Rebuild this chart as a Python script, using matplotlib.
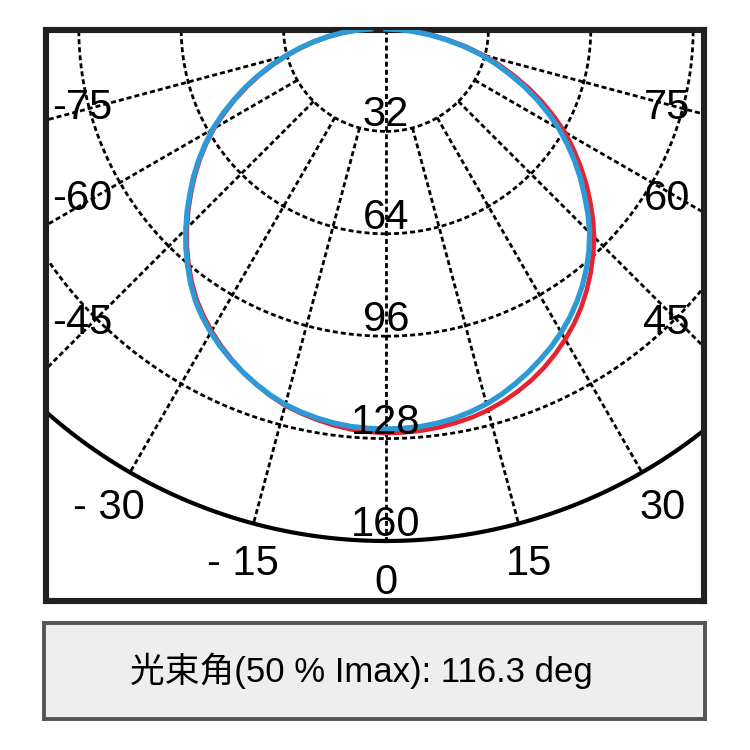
import numpy as np
import matplotlib.pyplot as plt

plt.rcParams['font.family'] = ['Liberation Sans', 'Noto Sans CJK SC', 'DejaVu Sans']

# measured intensity curves, -90 .. 90 deg in 2.5 deg steps
angles = [-90, -87.5, -85, -82.5, -80, -77.5, -75, -72.5, -70, -67.5, -65, -62.5, -60, -57.5,
          -55, -52.5, -50, -47.5, -45, -42.5, -40, -37.5, -35, -32.5, -30, -27.5, -25, -22.5,
          -20, -17.5, -15, -12.5, -10, -7.5, -5, -2.5, 0,
          2.5, 5, 7.5, 10, 12.5, 15, 17.5, 20, 22.5, 25, 27.5, 30, 32.5, 35, 37.5, 40, 42.5,
          45, 47.5, 50, 52.5, 55, 57.5, 60, 62.5, 65, 67.5, 70, 72.5, 75, 77.5, 80, 82.5,
          85, 87.5, 90]
blue_vals = [5, 9.5, 14, 18.5, 23, 27.7, 32.5, 37.5, 42.5, 47.5, 52.5, 57.6, 62.5, 67,
             71.5, 75.8, 80, 84.3, 88.5, 92.6, 96.5, 100.3, 103.8, 106.8, 109.5, 112, 114.2, 116.3,
             118.2, 120, 121.5, 122.6, 123.5, 124.2, 124.7, 124.9, 125,
             124.9, 124.7, 124.2, 123.5, 122.5, 121.3, 119.8, 118, 116.1, 114, 111.9, 109.5, 106.9,
             104, 100.9, 97.5, 93.9, 90, 85.6, 81, 76.6, 72, 67.3, 62.5, 57.3, 52, 46.6, 41, 35.8,
             30.5, 24.8, 19, 13.7, 8.5, 4, 0]
red_vals = [4.5, 9, 13.5, 18, 22.5, 27.3, 32, 37, 42, 47, 52, 57, 62, 66.6,
            71, 75.3, 79.5, 83.8, 88, 92.1, 96, 99.7, 103.2, 106.2, 109, 111.6, 114, 116.3,
            118.3, 120.2, 121.8, 123, 124, 124.9, 125.6, 126, 126.3,
            126.2, 126, 125.6, 125, 124.3, 123.3, 122, 120.5, 118.8, 116.8, 114.5, 112, 109.3,
            106.3, 103, 99.5, 95.8, 92, 87.7, 83.2, 78.7, 74, 69.3, 64.5, 59.2, 53.8, 48.2, 42.5, 37,
            31.5, 25.7, 19.8, 14.4, 9, 4.6, 0.5]

rings = [32, 64, 96, 128]
outer_ring = 160
spokes = [-75, -60, -45, -30, -15, 0, 15, 30, 45, 60, 75]
spoke_labels = ['-75', '-60', '-45', '- 30', '- 15', '0', '15', '30', '45', '60', '75']
info_text = '光束角(50 % Imax): 116.3 deg'

# pixel layout of the figure (750 x 750)
S = 3.2            # px per intensity unit
CX, CY = 386, 29   # polar origin in px
BOX = (46, 30, 704, 601)


def to_xy(theta_deg, r):
    t = np.radians(np.asarray(theta_deg, dtype=float))
    r = np.asarray(r, dtype=float)
    return r * np.sin(t), -r * np.cos(t)


fig = plt.figure(figsize=(7.5, 7.5), dpi=100)
ax = fig.add_axes([BOX[0] / 750, 1 - BOX[3] / 750, (BOX[2] - BOX[0]) / 750, (BOX[3] - BOX[1]) / 750])
ax.set_xlim((BOX[0] - CX) / S, (BOX[2] - CX) / S)
ax.set_ylim(-(BOX[3] - CY) / S, -(BOX[1] - CY) / S)
ax.set_xticks([])
ax.set_yticks([])
for sp in ax.spines.values():
    sp.set_linewidth(4.4)
    sp.set_color('#231f20')

dash = (0, (1.8, 1.1))
full = np.linspace(0, 360, 721)
for r in rings:
    x, y = to_xy(full, np.full_like(full, r))
    ax.plot(x, y, color='black', lw=2.0, linestyle=dash, zorder=1)
x, y = to_xy(full, np.full_like(full, outer_ring))
ax.plot(x, y, color='black', lw=3.0, zorder=1)

for a in spokes:
    r0 = 0 if a == 0 else rings[0]
    x, y = to_xy([a, a], [r0, outer_ring])
    ax.plot(x, y, color='black', lw=2.0, linestyle=dash, zorder=1)

# intensity curves
x, y = to_xy(angles, red_vals)
ax.plot(x, y, color='#e62330', lw=3.3, zorder=3)
x, y = to_xy(angles, blue_vals)
ax.plot(x, y, color='#2b9ad6', lw=3.8, zorder=4)

# ring labels
for r in rings + [outer_ring]:
    ax.text(0, -(r - 5), str(r), ha='center', va='center', fontsize=30, zorder=6)

# angle labels
xl = (BOX[0] + 6 - CX) / S
xr = (BOX[2] - 14 - CX) / S
for a, lab in zip(spokes, spoke_labels):
    if abs(a) <= 30:
        x, y = to_xy(a, 173)
        ax.text(x, y, lab, ha='center', va='center', fontsize=30, zorder=6)
    else:
        y = -92 / np.tan(np.radians(abs(a)))
        if a < 0:
            ax.text(xl, y, lab, ha='left', va='center', fontsize=30, zorder=6)
        else:
            ax.text(xr, y, lab, ha='right', va='center', fontsize=30, zorder=6)

# info box below the chart
bx = fig.add_axes([44 / 750, 1 - 719 / 750, 661 / 750, 96 / 750])
bx.set_facecolor('#eeeeee')
bx.set_xticks([])
bx.set_yticks([])
for sp in bx.spines.values():
    sp.set_linewidth(2.8)
    sp.set_color('#555555')
bx.text(0.48, 0.5, info_text, ha='center', va='center', fontsize=25, transform=bx.transAxes)

fig.savefig('out.png', dpi=100)
